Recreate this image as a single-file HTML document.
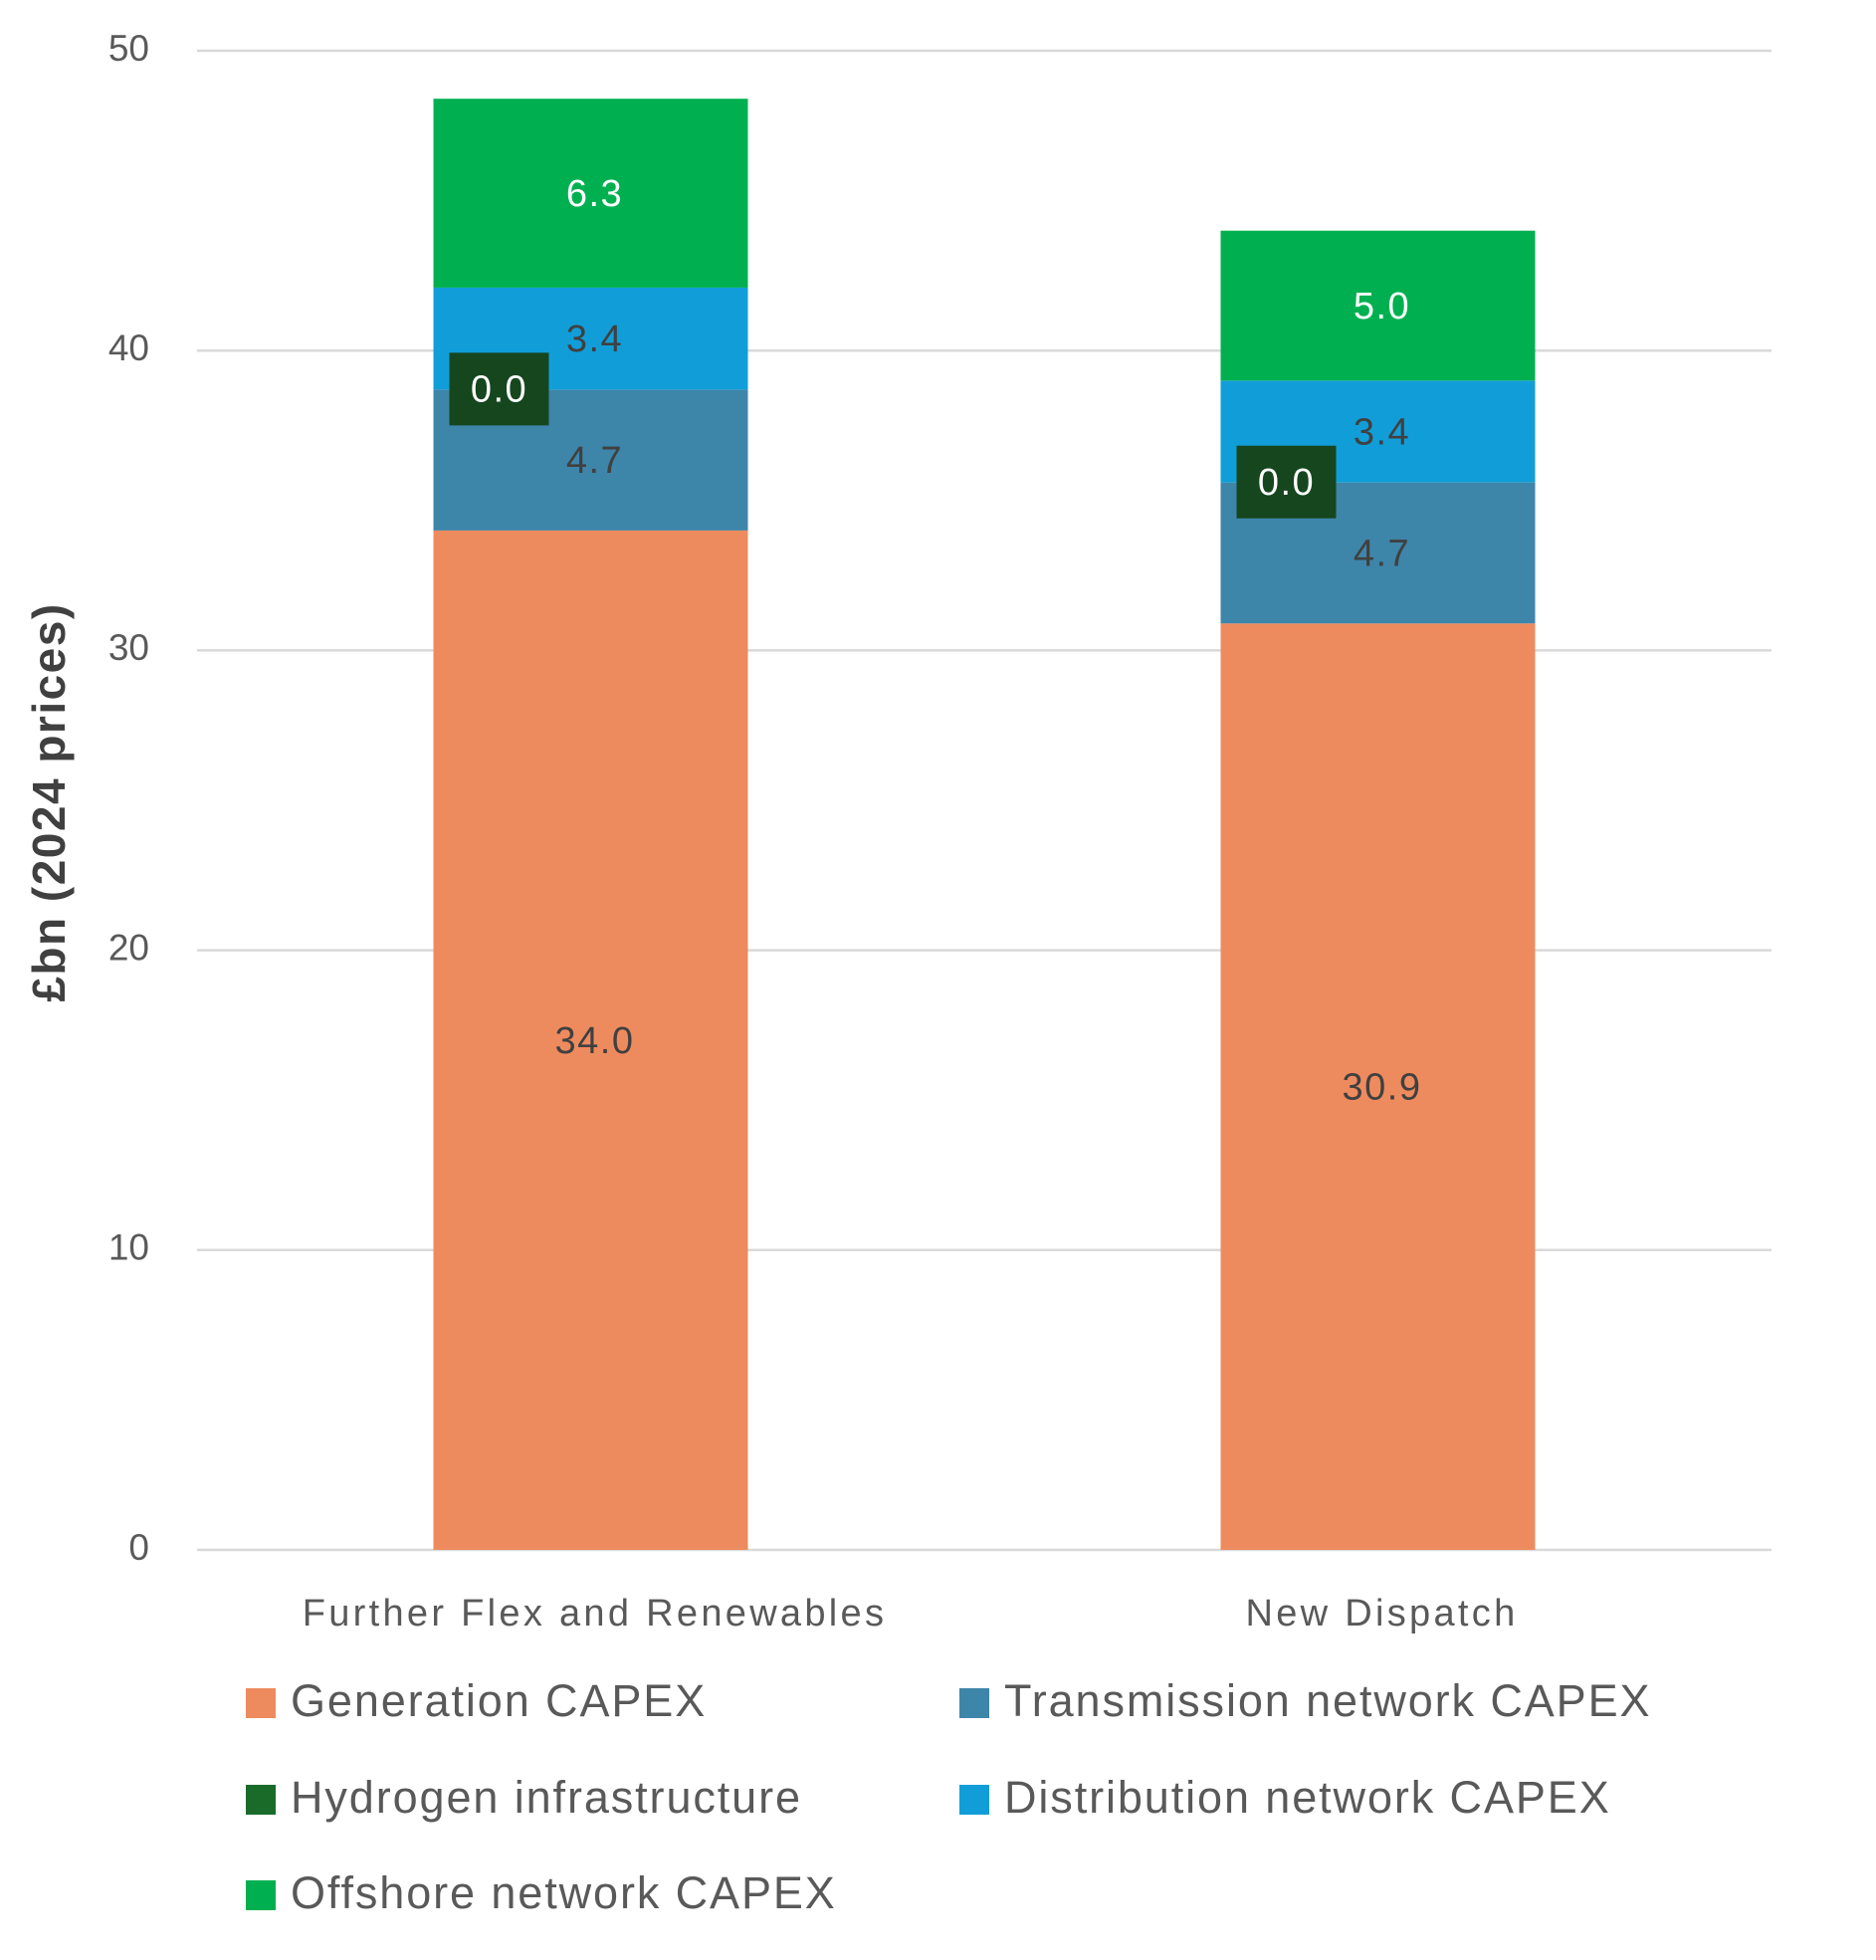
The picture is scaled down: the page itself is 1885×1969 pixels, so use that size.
<!DOCTYPE html>
<html><head><meta charset="utf-8"><style>
html,body{margin:0;padding:0;background:#fff;}
svg{display:block;font-family:"Liberation Sans",sans-serif;}
</style></head><body>
<svg id="chart" width="1885" height="1969" viewBox="0 0 1885 1969">
<g id="grid"></g>
<g id="bars"></g>
<g id="labels"></g>
<text x="53" y="806" transform="rotate(-90 53 806)" text-anchor="middle" dominant-baseline="middle" font-size="46" letter-spacing="1.5" font-weight="bold" fill="#404040">£bn (2024 prices)</text>
<g id="legend"></g>
</svg>
<script>
const categories = ["Further Flex and Renewables", "New Dispatch"];
const seriesNames = ["Generation CAPEX","Transmission network CAPEX","Hydrogen infrastructure","Distribution network CAPEX","Offshore network CAPEX"];
const generation = [34.0, 30.9];
const transmission = [4.7, 4.7];
const hydrogen = [0.0, 0.0];
const distribution = [3.4, 3.4];
const offshore = [6.3, 5.0];
const yTicks = [0,10,20,30,40,50];

const NS="http://www.w3.org/2000/svg";
const colors=["#EE8B5E","#3E85AA","#1A6B2A","#119ED8","#00B050"];
const series=[generation,transmission,hydrogen,distribution,offshore];
const x0=198,x1=1780,yBase=1557,yTop=51,yMax=50;
const y=v=>yBase-(v/yMax)*(yBase-yTop);
const bandW=(x1-x0)/categories.length;
const barW=316;
const cx=i=>x0+bandW*(i+0.5);
function el(tag,attrs,parent,text){const e=document.createElementNS(NS,tag);for(const k in attrs)e.setAttribute(k,attrs[k]);if(text!==undefined)e.textContent=text;parent.appendChild(e);return e;}
const grid=document.getElementById('grid');
yTicks.forEach(t=>{
  const l=el('line',{x1:x0,x2:x1,y1:y(t),y2:y(t),stroke:'#D9D9D9','stroke-width':2.5},grid);
  
  
  const tx=el('text',{x:150,y:y(t),'text-anchor':'end','dominant-baseline':'middle','font-size':37,fill:'#595959'},grid,String(t));
  
  
});
const bars=document.getElementById('bars'),labels=document.getElementById('labels');
categories.forEach((c,i)=>{
  let cum=0;
  series.forEach((s,k)=>{
    const v=s[i],b=cum,t=cum+v;cum=t;
    if(k!==2){
      const r=el('rect',{x:cx(i)-barW/2,y:y(t),width:barW,height:y(b)-y(t),fill:colors[k]},bars);
      
      
      const lt=el('text',{x:cx(i)+4,y:y((b+t)/2)+3,'text-anchor':'middle','dominant-baseline':'middle','font-size':38,'letter-spacing':1.5,fill:k===4?'#fff':'#404040'},labels,v.toFixed(1));
      
      
    } else {
      const g=el('g',{},labels);
      
      
      el('rect',{x:cx(i)-142,y:y(t)-37,width:100,height:73,fill:'#16461E'},g);
      el('text',{x:cx(i)-92,y:y(t)+2,'text-anchor':'middle','dominant-baseline':'middle','font-size':38,'letter-spacing':1.5,fill:'#fff'},g,v.toFixed(1));
    }
  });
  const ct=el('text',{x:cx(i)+4,y:1623,'text-anchor':'middle','dominant-baseline':'middle','font-size':38,'letter-spacing':3.3,fill:'#595959'},labels,c);
  
  
});
const legend=document.getElementById('legend');
const pos=[[247,1711],[964,1711],[247,1808],[964,1808],[247,1904]];
seriesNames.forEach((n,k)=>{
  const g=el('g',{},legend);
  
  
  el('rect',{x:pos[k][0],y:pos[k][1]-15,width:30,height:30,fill:colors[k]},g);
  el('text',{x:pos[k][0]+45,y:pos[k][1]+1,'dominant-baseline':'middle','font-size':45,'letter-spacing':1.9,fill:'#595959'},g,n);
});
</script>
</body></html>
